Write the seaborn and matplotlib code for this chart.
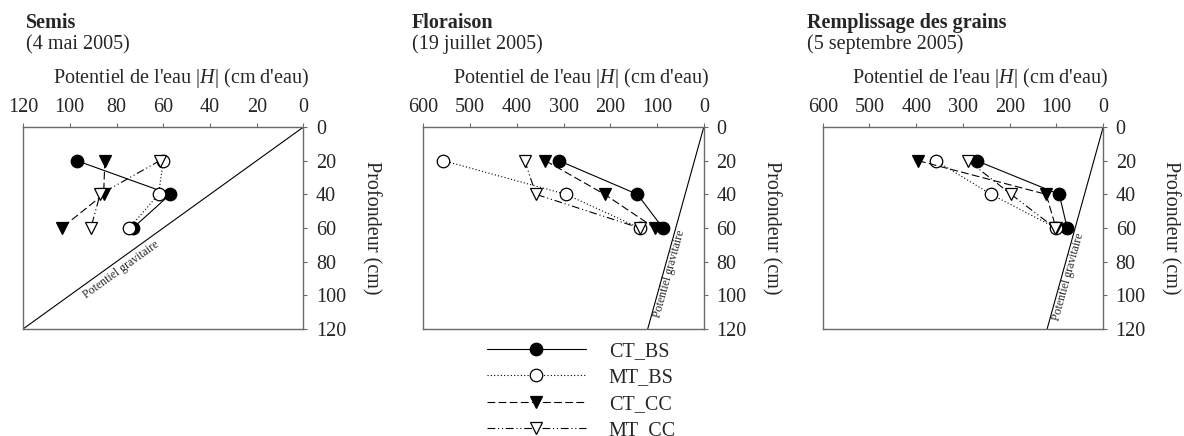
import numpy as np
import pandas as pd
import seaborn as sns
import matplotlib.pyplot as plt

# depth of measurement (cm)
depth = [20, 40, 60]

# water potential |H| (cm of water)
semis_ct_bs = [97, 57, 73]
semis_mt_bs = [60, 62, 74.5]
semis_ct_cc = [85, 85.5, 103.5]
semis_mt_cc = [61.5, 87, 91]

flor_ct_bs = [310, 142, 87.5]
flor_mt_bs = [557, 295, 137]
flor_ct_cc = [339, 212, 105]
flor_mt_cc = [383, 359, 137]

remp_ct_bs = [271, 94, 77]
remp_mt_bs = [358, 240, 101]
remp_ct_cc = [396, 122, 101]
remp_mt_cc = [289, 197, 103]

# gravitational potential line |H| = z
grav_h = [0, 120]
grav_z = [0, 120]

titles = ["Semis", "Floraison", "Remplissage des grains"]
dates = ["(4 mai 2005)", "(19 juillet 2005)", "(5 septembre 2005)"]
xmax = [120, 600, 600]
yticks = [0, 20, 40, 60, 80, 100, 120]

sns.set_theme(style="white")
plt.rcParams["font.family"] = ["Liberation Serif", "DejaVu Serif"]
plt.rcParams["mathtext.fontset"] = "custom"
plt.rcParams["mathtext.rm"] = "Liberation Serif"
plt.rcParams["mathtext.it"] = "Liberation Serif:italic"

FS = 14.5

series_style = {
    "CT_BS": dict(linestyle="-", marker="o", markerfacecolor="black"),
    "MT_BS": dict(linestyle=(0, (1, 2)), marker="o", markerfacecolor="white"),
    "CT_CC": dict(linestyle=(0, (7, 3)), marker="v", markerfacecolor="black"),
    "MT_CC": dict(linestyle=(0, (7, 2.5, 1, 2.5, 1, 2.5)), marker="v", markerfacecolor="white"),
}
panels = [
    [semis_ct_bs, semis_mt_bs, semis_ct_cc, semis_mt_cc],
    [flor_ct_bs, flor_mt_bs, flor_ct_cc, flor_mt_cc],
    [remp_ct_bs, remp_mt_bs, remp_ct_cc, remp_mt_cc],
]

fig = plt.figure(figsize=(11.84, 4.36), dpi=100)
lefts = [23 / 1184, 423.3 / 1184, 822.7 / 1184]
title_x = [26 / 1184, 411.7 / 1184, 806.7 / 1184]
spine_col = "#6a6a6a"

handles = []
for i, (left, vals) in enumerate(zip(lefts, panels)):
    ax = fig.add_axes([left, 1 - 329 / 436, 280.5 / 1184, 202 / 436])
    for name, v in zip(series_style, vals):
        sns.lineplot(x=v, y=depth, sort=False, estimator=None, ax=ax,
                     color="black", linewidth=0.8, markersize=9,
                     markeredgecolor="black", markeredgewidth=0.9,
                     label=name, legend=False, **series_style[name])
    ax.plot(grav_h, grav_z, color="black", linewidth=0.8)
    ax.set_xlim(xmax[i], 0)
    ax.set_ylim(120, 0)
    ax.set_xticks(np.linspace(0, xmax[i], 7))
    ax.set_yticks(yticks)
    ax.xaxis.tick_top()
    ax.yaxis.tick_right()
    ax.tick_params(axis="both", direction="out", length=3, width=0.8,
                   color=spine_col, labelsize=FS, pad=4)
    ax.tick_params(axis="y", pad=6)
    for sp in ax.spines.values():
        sp.set_color(spine_col)
        sp.set_linewidth(1.0)
    ax.set_xlabel("")
    ax.set_ylabel("")
    ax.text(0.562, 1.245, "Potentiel de l'eau |$H$| (cm d'eau)", transform=ax.transAxes,
            ha="center", va="center", fontsize=FS)
    ax.text(1.24, 0.5, "Profondeur (cm)", transform=ax.transAxes,
            ha="center", va="center", rotation=270, fontsize=FS)

    # label along the gravitational potential line
    p0 = ax.transData.transform((0, 0))
    p1 = ax.transData.transform((120, 120))
    ang = np.degrees(np.arctan2(p0[1] - p1[1], p0[0] - p1[0]))
    tx, ty = [(78, 85), (73, 87), (75, 89)][i]
    ax.text(tx, ty, "Potentiel gravitaire", rotation=ang, fontsize=8.5,
            ha="center", va="center", rotation_mode="anchor")

    fig.text(title_x[i], 1 - 28 / 436, titles[i], fontsize=FS, fontweight="bold",
             va="baseline", ha="left")
    fig.text(title_x[i], 1 - 49 / 436, dates[i], fontsize=FS, va="baseline", ha="left")
    if i == 1:
        handles = ax.get_lines()[:4]

fig.legend(handles, list(series_style), loc="upper left",
           bbox_to_anchor=(487 / 1184, 1 - 342 / 436), frameon=False,
           fontsize=FS, handlelength=4.9, handletextpad=1.15, labelspacing=0.36,
           borderpad=0, borderaxespad=0)

fig.savefig("out.png", dpi=100)
